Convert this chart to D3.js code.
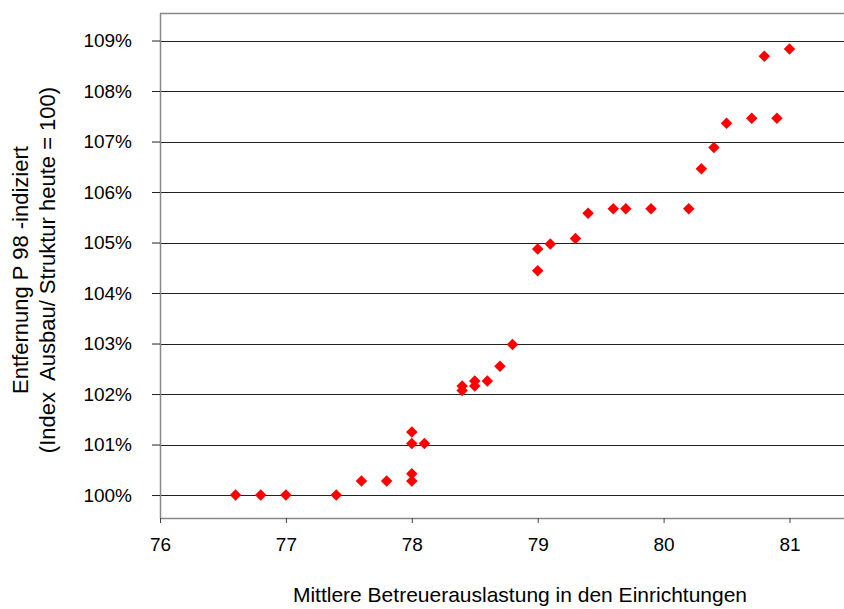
<!DOCTYPE html>
<html>
<head>
<meta charset="utf-8">
<script src="https://cdn.jsdelivr.net/npm/d3@7"></script>
<style>
  body { margin: 0; background: #fff; }
  svg { display: block; font-family: "Liberation Sans", Arial, sans-serif; }
</style>
</head>
<body>
<div id="chart"></div>
<script>
// Mittlere Betreuerauslastung (x) vs. Entfernung P 98 indiziert (y)
var auslastung = [76.6, 76.8, 77.0, 77.4, 77.6, 77.8, 78.0, 78.0, 78.0, 78.0,
                  78.1, 78.4, 78.4, 78.5, 78.5, 78.6, 78.7, 78.8, 79.0, 79.0,
                  79.1, 79.3, 79.4, 79.6, 79.7, 79.9, 80.2, 80.3, 80.4, 80.5,
                  80.7, 80.8, 80.9, 81.0];
var entfernung = [1.0000, 1.0000, 1.0000, 1.0000, 1.0028, 1.0028, 1.0028, 1.0042, 1.0102, 1.0125,
                  1.0102, 1.0207, 1.0216, 1.0216, 1.0226, 1.0226, 1.0255, 1.0298, 1.0444, 1.0487,
                  1.0497, 1.0508, 1.0558, 1.0567, 1.0567, 1.0567, 1.0567, 1.0646, 1.0688, 1.0736,
                  1.0746, 1.0869, 1.0746, 1.0883];
var xTicks = [76, 77, 78, 79, 80, 81];
var yTicks = [1.00, 1.01, 1.02, 1.03, 1.04, 1.05, 1.06, 1.07, 1.08, 1.09];
var xTitle = "Mittlere Betreuerauslastung in den Einrichtungen";
var yTitle = ["Entfernung P 98 -indiziert", "(Index  Ausbau/ Struktur heute = 100)"];

function chart()
{
    var W = 844, H = 609;
    // plot area edges (right edge runs just past the window, as in the original)
    var pLeft = 160, pTop = 13, pRight = 846, pBottom = 518;

    var svg = d3.select("#chart").append("svg")
        .attr("width", W)
        .attr("height", H);

    var x = d3.scaleLinear()
        .domain([76, 76 + (pRight - pLeft) / 125.9])
        .range([pLeft, pRight]);
    var y = d3.scaleLinear()
        .domain([0.99545, 1.09545])
        .range([pBottom, pTop]);

    // gridlines
    svg.append("g").selectAll("line")
        .data(yTicks)
      .enter().append("line")
        .attr("x1", pLeft).attr("x2", pRight)
        .attr("y1", function(d) { return Math.round(y(d)) + 0.5; })
        .attr("y2", function(d) { return Math.round(y(d)) + 0.5; })
        .style("stroke", "#222")
        .style("stroke-width", 1.2);

    // top border
    svg.append("line")
        .attr("x1", pLeft).attr("x2", pRight)
        .attr("y1", pTop + 0.5).attr("y2", pTop + 0.5)
        .style("stroke", "#888").style("stroke-width", 1.5);

    // y axis
    var yAxis = svg.append("g")
        .attr("transform", "translate(" + pLeft + ",0)")
        .call(d3.axisLeft(y).tickValues(yTicks).tickFormat(d3.format(".0%"))
            .tickSize(8).tickPadding(20).tickSizeOuter(0));
    yAxis.select(".domain").style("stroke", "#888").style("stroke-width", 1.5);
    yAxis.selectAll(".tick line").style("stroke", "#222");
    yAxis.selectAll("text")
        .style("font-family", "Liberation Sans, Arial, sans-serif")
        .style("font-size", "19px").style("fill", "#000");

    // x axis
    var xAxis = svg.append("g")
        .attr("transform", "translate(0," + pBottom + ")")
        .call(d3.axisBottom(x).tickValues(xTicks).tickFormat(d3.format("d"))
            .tickSize(5).tickPadding(15).tickSizeOuter(0));
    xAxis.select(".domain").style("stroke", "#888").style("stroke-width", 1.5);
    xAxis.selectAll(".tick line").style("stroke", "#444");
    xAxis.selectAll("text")
        .style("font-family", "Liberation Sans, Arial, sans-serif")
        .style("font-size", "19px").style("fill", "#000");

    // points (red diamonds)
    var diamond = d3.symbol().type(d3.symbolSquare).size(66);
    svg.append("g").selectAll("path")
        .data(d3.range(auslastung.length))
      .enter().append("path")
        .attr("d", diamond)
        .attr("transform", function(i) {
            return "translate(" + x(auslastung[i]) + "," + y(entfernung[i]) + ") rotate(45)";
        })
        .style("fill", "#ff0000");

    // titles
    svg.append("text")
        .attr("x", 520).attr("y", 602)
        .attr("text-anchor", "middle")
        .style("font-size", "21px")
        .text(xTitle);

    svg.append("text")
        .attr("transform", "translate(28,270) rotate(-90)")
        .attr("text-anchor", "middle")
        .style("font-size", "22px")
        .style("white-space", "pre")
        .selectAll("tspan")
        .data(yTitle)
      .enter().append("tspan")
        .attr("x", 0)
        .attr("dy", function(d, i) { return i === 0 ? 0 : 27; })
        .text(function(d) { return d; });
}

chart();
</script>
</body>
</html>
